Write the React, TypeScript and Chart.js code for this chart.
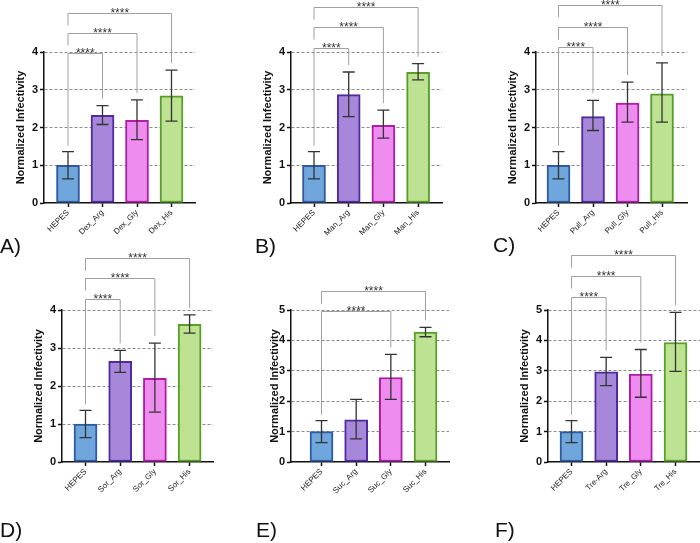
import React, { useEffect, useRef } from "react";
import { Chart, registerables } from "chart.js";
Chart.register(...registerables);

const FONT = "'Liberation Sans', Arial, Helvetica, sans-serif";

// ---------- data ----------
const labelsA = ["HEPES", "Dex_Arg", "Dex_Gly", "Dex_His"];
const meanA = [1.0, 2.32, 2.19, 2.84];
const lowA = [0.64, 2.08, 1.68, 2.17];
const highA = [1.36, 2.58, 2.73, 3.52];
const sigToA = [1, 2, 3];
const sigLevelA = [3.97, 4.51, 5.04];

const labelsB = ["HEPES", "Man_Arg", "Man_Gly", "Man_His"];
const meanB = [1.0, 2.87, 2.06, 3.46];
const lowB = [0.64, 2.29, 1.72, 3.26];
const highB = [1.36, 3.47, 2.46, 3.69];
const sigToB = [1, 2, 3];
const sigLevelB = [4.11, 4.66, 5.2];

const labelsC = ["HEPES", "Pull_Arg", "Pull_Gly", "Pull_His"];
const meanC = [1.0, 2.29, 2.65, 2.89];
const lowC = [0.64, 1.92, 2.14, 2.14];
const highC = [1.36, 2.72, 3.2, 3.71];
const sigToC = [1, 2, 3];
const sigLevelC = [4.14, 4.67, 5.24];

const labelsD = ["HEPES", "Sor_Arg", "Sor_Gly", "Sor_His"];
const meanD = [1.0, 2.65, 2.2, 3.62];
const lowD = [0.64, 2.36, 1.31, 3.39];
const highD = [1.36, 2.94, 3.13, 3.87];
const sigToD = [1, 2, 3];
const sigLevelD = [4.29, 4.83, 5.36];

const labelsE = ["HEPES", "Suc_Arg", "Suc_Gly", "Suc_His"];
const meanE = [1.0, 1.39, 2.78, 4.27];
const lowE = [0.64, 0.76, 2.06, 4.12];
const highE = [1.36, 2.06, 3.54, 4.43];
const sigToE = [2, 3];
const sigLevelE = [4.97, 5.63];

const labelsF = ["HEPES", "Tre-Arg", "Tre_Gly", "Tre_His"];
const meanF = [1.0, 2.97, 2.89, 3.93];
const lowF = [0.64, 2.51, 2.13, 2.98];
const highF = [1.36, 3.44, 3.7, 4.92];
const sigToF = [1, 2, 3];
const sigLevelF = [5.44, 6.12, 6.81];

const sigText = "****";
const yTitle = "Normalized Infectivity";

// ---------- styles ----------
const fills = ["#6fa6dc", "#a787d9", "#ee8def", "#bde291"];
const borders = ["#2d5aa0", "#4f2aa0", "#b01ea8", "#5a9e2a"];

type Panel = {
  letter: string;
  labels: string[];
  mean: number[];
  low: number[];
  high: number[];
  sigTo: number[];
  sigLevel: number[];
  yMax: number;
  axisX: number;
  right: number;
  top: number;
  bottom: number;
  c0: number;
  sp: number;
  titleGap: number;
  letterX: number;
  letterBase: number;
};

const panels: Panel[] = [
  { letter: "A", labels: labelsA, mean: meanA, low: lowA, high: highA, sigTo: sigToA, sigLevel: sigLevelA, yMax: 4,
    axisX: 44, right: 195, top: 52, bottom: 203, c0: 68, sp: 34.5, titleGap: 23.5, letterX: 0, letterBase: 253 },
  { letter: "B", labels: labelsB, mean: meanB, low: lowB, high: highB, sigTo: sigToB, sigLevel: sigLevelB, yMax: 4,
    axisX: 291, right: 442, top: 52, bottom: 203, c0: 314, sp: 34.7, titleGap: 23.5, letterX: 255, letterBase: 253 },
  { letter: "C", labels: labelsC, mean: meanC, low: lowC, high: highC, sigTo: sigToC, sigLevel: sigLevelC, yMax: 4,
    axisX: 536, right: 687, top: 52, bottom: 203, c0: 558.5, sp: 34.5, titleGap: 23.5, letterX: 493, letterBase: 252 },
  { letter: "D", labels: labelsD, mean: meanD, low: lowD, high: highD, sigTo: sigToD, sigLevel: sigLevelD, yMax: 4,
    axisX: 62, right: 213, top: 310, bottom: 462, c0: 85.5, sp: 34.7, titleGap: 23.5, letterX: 0, letterBase: 537 },
  { letter: "E", labels: labelsE, mean: meanE, low: lowE, high: highE, sigTo: sigToE, sigLevel: sigLevelE, yMax: 5,
    axisX: 291, right: 449, top: 310, bottom: 462, c0: 321.5, sp: 34.67, titleGap: 16.5, letterX: 256, letterBase: 537 },
  { letter: "F", labels: labelsF, mean: meanF, low: lowF, high: highF, sigTo: sigToF, sigLevel: sigLevelF, yMax: 5,
    axisX: 548, right: 700, top: 310, bottom: 462, c0: 571.5, sp: 34.67, titleGap: 23.5, letterX: 495, letterBase: 537 },
];

const W = 700;
const H = 543;
const XH = 50;

const annotPlugin = {
  id: "annot",
  afterDatasetsDraw(chart: any, _args: any, opts: any) {
    const p: Panel = opts.panel;
    if (!p) return;
    const { ctx } = chart;
    const x = chart.scales.x;
    const y = chart.scales.y;
    ctx.save();
    // error bars
    ctx.strokeStyle = "#333";
    ctx.lineWidth = 1.3;
    p.mean.forEach((_m, i) => {
      const cx = x.getPixelForValue(i);
      const yt = y.getPixelForValue(p.high[i]);
      const yb = y.getPixelForValue(p.low[i]);
      ctx.beginPath();
      ctx.moveTo(cx, yt);
      ctx.lineTo(cx, yb);
      ctx.moveTo(cx - 6, yt);
      ctx.lineTo(cx + 6, yt);
      ctx.moveTo(cx - 6, yb);
      ctx.lineTo(cx + 6, yb);
      ctx.stroke();
    });
    // significance brackets
    const x0 = x.getPixelForValue(0);
    p.sigTo.forEach((j, k) => {
      const by = Math.round(y.getPixelForValue(p.sigLevel[k])) + 0.5;
      const xj = x.getPixelForValue(j);
      const leftBottom = k === 0 ? y.getPixelForValue(p.high[0]) - 6 : by + 12;
      const rightBottom = y.getPixelForValue(p.high[j]) - 7;
      ctx.strokeStyle = "#a0a0a0";
      ctx.lineWidth = 1;
      ctx.beginPath();
      ctx.moveTo(x0, leftBottom);
      ctx.lineTo(x0, by);
      ctx.lineTo(xj, by);
      ctx.lineTo(xj, rightBottom);
      ctx.stroke();
      ctx.fillStyle = "#333";
      ctx.font = `12px ${FONT}`;
      ctx.textAlign = "center";
      ctx.textBaseline = "alphabetic";
      ctx.fillText(sigText, (x0 + xj) / 2, by + 3.5);
    });
    ctx.restore();
  },
};

function PanelChart({ p }: { p: Panel }) {
  const ref = useRef<HTMLCanvasElement>(null);
  useEffect(() => {
    if (!ref.current) return;
    const yw = p.titleGap + 6.6;
    const xmin = -(p.c0 - p.axisX) / p.sp;
    const xmax = (p.right - p.c0) / p.sp;
    const chart = new Chart(ref.current, {
      type: "bar",
      data: {
        datasets: [
          {
            data: p.mean.map((m, i) => ({ x: i, y: m })),
            backgroundColor: fills,
            borderColor: borders,
            borderWidth: 2,
            borderSkipped: false,
            barThickness: 23,
          } as any,
        ],
      },
      plugins: [annotPlugin as any],
      options: {
        responsive: false,
        animation: false,
        events: [],
        layout: {
          padding: {
            left: p.axisX - yw,
            right: W - p.right,
            top: p.top,
            bottom: H - p.bottom - XH,
          },
        },
        plugins: {
          legend: { display: false },
          tooltip: { enabled: false },
          annot: { panel: p },
        } as any,
        scales: {
          x: {
            type: "linear",
            min: xmin,
            max: xmax,
            offset: false,
            ticks: {
              stepSize: 1,
              includeBounds: false,
              autoSkip: false,
              maxRotation: 45,
              minRotation: 45,
              padding: 1,
              color: "#222",
              font: { family: FONT, size: 8 },
              callback: (v: any) => (Number.isInteger(v) ? p.labels[v] ?? "" : ""),
            },
            grid: {
              offset: false,
              drawOnChartArea: false,
              tickLength: 4,
              tickColor: "#111",
              tickWidth: 1.5,
            },
            border: { display: true, color: "#111", width: 1.5 },
            afterFit: (s: any) => {
              s.height = XH;
            },
          } as any,
          y: {
            type: "linear",
            min: 0,
            max: p.yMax,
            ticks: {
              stepSize: 1,
              padding: 2,
              color: "#111",
              font: { family: FONT, size: 11, weight: "bold" },
            },
            grid: {
              color: (c: any) => (c.tick && c.tick.value === 0 ? "rgba(0,0,0,0)" : "#8c8c8c"),
              lineWidth: 1,
              tickLength: 4,
              tickColor: "#111",
              tickWidth: 1.5,
              tickBorderDash: [],
            },
            border: { display: true, color: "#111", width: 1.5, dash: [3, 2] },
            title: {
              display: true,
              text: yTitle,
              color: "#111",
              padding: { top: 0, bottom: 0 },
              font: { family: FONT, size: 11, weight: "bold" },
            },
            afterFit: (s: any) => {
              s.width = yw;
            },
          } as any,
        },
      },
    });
    return () => chart.destroy();
  }, [p]);
  return (
    <canvas
      ref={ref}
      width={W}
      height={H}
      style={{ position: "absolute", left: 0, top: 0, width: W, height: H }}
    />
  );
}

export default function App() {
  return (
    <div
      style={{
        position: "fixed",
        left: 0,
        top: 0,
        width: W,
        height: H,
        background: "#fff",
        overflow: "hidden",
      }}
    >
      {panels.map((p) => (
        <PanelChart key={p.letter} p={p} />
      ))}
      {panels.map((p) => (
        <div
          key={"l" + p.letter}
          style={{
            position: "absolute",
            left: p.letterX,
            top: p.letterBase - 17.8,
            fontFamily: FONT,
            fontSize: 21,
            lineHeight: 1,
            color: "#111",
            whiteSpace: "nowrap",
          }}
        >
          {p.letter + ")"}
        </div>
      ))}
    </div>
  );
}
